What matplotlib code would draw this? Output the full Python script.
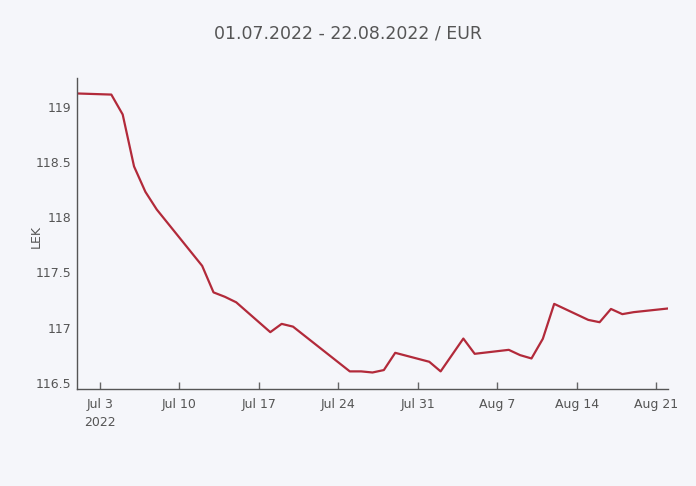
import matplotlib
matplotlib.use("Agg")
import matplotlib.pyplot as plt
import numpy as np
import pandas as pd

# EUR -> LEK rate, business days only
dates = ["2022-07-01", "2022-07-04", "2022-07-05", "2022-07-06", "2022-07-07",
         "2022-07-08", "2022-07-12", "2022-07-13", "2022-07-14", "2022-07-15",
         "2022-07-18", "2022-07-19", "2022-07-20", "2022-07-25", "2022-07-26",
         "2022-07-27", "2022-07-28", "2022-07-29", "2022-08-01", "2022-08-02",
         "2022-08-04", "2022-08-05", "2022-08-08", "2022-08-09", "2022-08-10",
         "2022-08-11", "2022-08-12", "2022-08-15", "2022-08-16", "2022-08-17",
         "2022-08-18", "2022-08-19", "2022-08-22"]
rates = [119.12, 119.11, 118.93, 118.46, 118.23,
         118.07, 117.56, 117.32, 117.28, 117.23,
         116.96, 117.035, 117.01, 116.605, 116.605,
         116.595, 116.617, 116.773, 116.692, 116.605,
         116.902, 116.764, 116.80, 116.752, 116.722,
         116.90, 117.216, 117.071, 117.05, 117.17,
         117.123, 117.141, 117.174]

tick_dates = ["2022-07-03", "2022-07-10", "2022-07-17", "2022-07-24",
              "2022-07-31", "2022-08-07", "2022-08-14", "2022-08-21"]
tick_labels = ["Jul 3\n2022", "Jul 10", "Jul 17", "Jul 24",
               "Jul 31", "Aug 7", "Aug 14", "Aug 21"]
y_ticks = [116.5, 117, 117.5, 118, 118.5, 119]
y_labels = ["116.5", "117", "117.5", "118", "118.5", "119"]

bg = "#f5f6fa"
txt = "#555555"

x = pd.to_datetime(dates)

fig = plt.figure(figsize=(6.96, 4.86), dpi=100, facecolor=bg)
ax = fig.add_axes([0.111, 0.199, 0.8484, 0.6405], facecolor=bg)

ax.plot(x, rates, color="#b22a3a", lw=1.6)

ax.set_xlim(pd.Timestamp("2022-07-01"), pd.Timestamp("2022-08-22"))
ax.set_ylim(116.443, 119.26)

ax.set_xticks(pd.to_datetime(tick_dates))
ax.set_xticklabels(tick_labels, fontsize=9, color=txt, linespacing=1.5)
ax.set_yticks(y_ticks)
ax.set_yticklabels(y_labels, fontsize=9, color=txt)
ax.tick_params(axis="x", direction="in", length=5, width=1, color="#666666", pad=6)
ax.tick_params(axis="y", length=0, pad=4)

for s in ["top", "right"]:
    ax.spines[s].set_visible(False)
for s in ["left", "bottom"]:
    ax.spines[s].set_color("#555555")
    ax.spines[s].set_linewidth(1)

ax.set_ylabel("LEK", fontsize=9, color=txt, va="center")
ax.yaxis.set_label_coords(-0.069, 0.49)
fig.text(0.5, 0.932, "01.07.2022 - 22.08.2022 / EUR", ha="center", va="center",
         fontsize=12.5, color=txt)

fig.savefig("out.png", dpi=100, facecolor=bg)
